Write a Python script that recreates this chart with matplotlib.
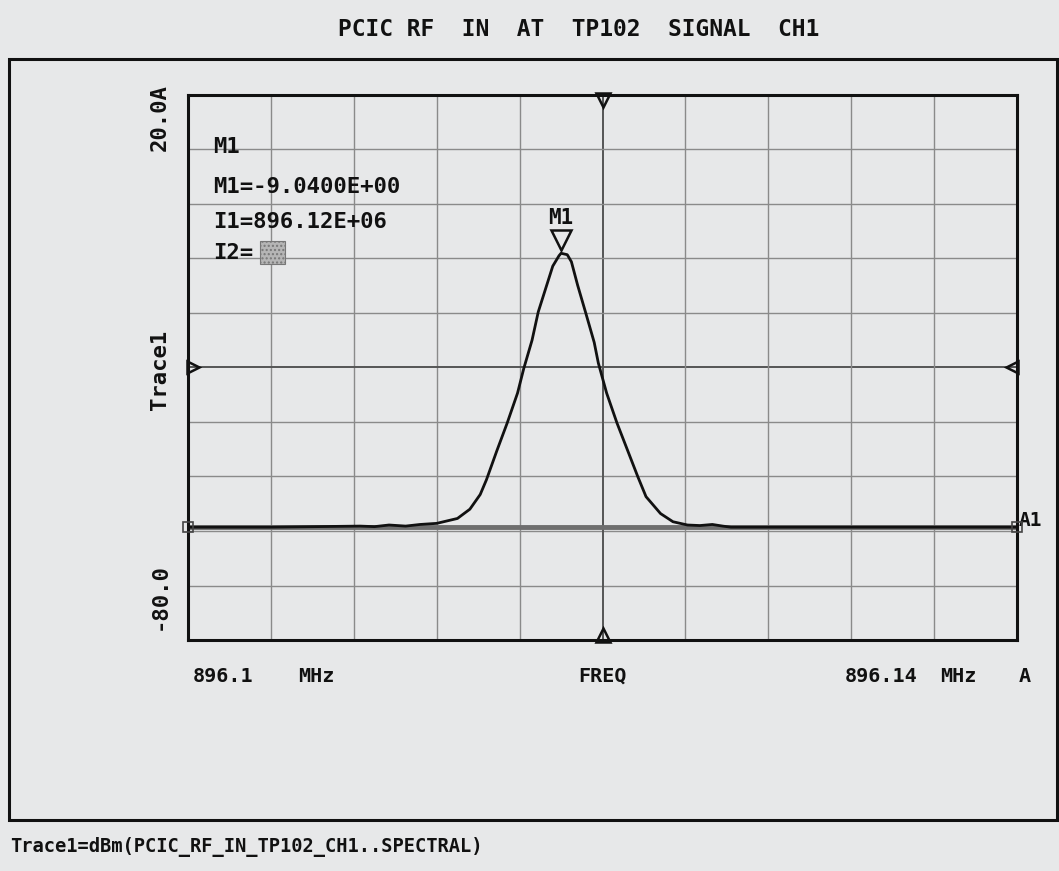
import matplotlib
matplotlib.use("Agg")
from matplotlib import pyplot as plt
from matplotlib.patches import Rectangle

# trace (MHz, dBm)
freq_mhz = [896.1000, 896.1040, 896.1083, 896.1090, 896.1097, 896.1105, 896.1112,
            896.1120, 896.1130, 896.1136, 896.1141, 896.1144, 896.1149, 896.1154,
            896.1159, 896.1162, 896.1166, 896.1169, 896.1173, 896.1176, 896.1179,
            896.1180, 896.1183, 896.1185, 896.1188, 896.1192, 896.1196, 896.1198,
            896.1202, 896.1207, 896.1212, 896.1217, 896.1221, 896.1228, 896.1234,
            896.1241, 896.1247, 896.1253, 896.1258, 896.1262, 896.1300, 896.1400]
level_dbm = [-59.3, -59.3, -59.1, -59.2, -58.9, -59.1, -58.8,
             -58.6, -57.7, -56.0, -53.3, -50.6, -45.3, -40.2,
             -34.7, -30.2, -25.0, -19.8, -15.0, -11.4, -9.5,
             -9.04, -9.3, -10.6, -14.9, -20.1, -25.4, -29.2,
             -34.7, -40.2, -45.1, -50.0, -53.7, -56.8, -58.3,
             -58.9, -59.0, -58.8, -59.1, -59.3, -59.3, -59.3]

f_start, f_stop = 896.10, 896.14
y_top, y_bottom = 20.0, -80.0
ref_level = -59.3
marker_freq = 896.1180
marker_level = -9.04
readout = ["M1", "M1=-9.0400E+00", "I1=896.12E+06", "I2="]

bg = "#e7e8e9"
ink = "#111111"
font = dict(family="DejaVu Sans Mono", weight="bold", color=ink)

fig = plt.figure(figsize=(10.59, 8.71), dpi=100, facecolor=bg)

# outer panel frame
fig.patches.append(Rectangle((9 / 1059, 1 - 820 / 871), 1 - 11 / 1059, (820 - 59) / 871,
                             transform=fig.transFigure, fill=False, lw=2.2, ec=ink))

ax = fig.add_axes([188 / 1059, 1 - 640 / 871, 829 / 1059, 545 / 871])
ax.set_facecolor(bg)
ax.set_xlim(f_start, f_stop)
ax.set_ylim(y_bottom, y_top)

# graticule 10 x 10, centre lines darker
step_x = (f_stop - f_start) / 10
step_y = (y_top - y_bottom) / 10
for i in range(1, 10):
    xv = f_start + i * step_x
    yv = y_bottom + i * step_y
    c = "#555555" if i == 5 else "#8a8a8a"
    w = 1.4 if i == 5 else 1.0
    ax.axvline(xv, color=c, lw=w, zorder=1)
    ax.axhline(yv, color=c, lw=w, zorder=1)

ax.set_xticks([])
ax.set_yticks([])
for s in ax.spines.values():
    s.set_linewidth(2.2)
    s.set_color(ink)

# reference line A1 and trace
ax.axhline(ref_level, color="#6e6e6e", lw=3.5, zorder=2)
ax.plot(freq_mhz, level_dbm, color=ink, lw=2.0, zorder=3)

ax.plot([f_start, f_stop], [ref_level, ref_level], ls="none", marker="s", ms=7,
        mfc="none", mec="#444444", mew=1.2, clip_on=False, zorder=4)
ax.text(f_stop + 0.0001, ref_level + 1.3, "A1", ha="left", va="center", fontsize=14, **font)

# edge markers, sitting just inside the frame
mid_f = (f_start + f_stop) / 2
mid_y = (y_top + y_bottom) / 2
dx = step_x * 0.06
ax.plot([mid_f], [y_top - 0.9], marker="v", ms=10, mfc="none", mec=ink, mew=1.8, clip_on=False, zorder=4)
ax.plot([mid_f], [y_bottom + 0.9], marker="^", ms=10, mfc="none", mec=ink, mew=1.8, clip_on=False, zorder=4)
ax.plot([f_start + dx], [mid_y], marker=">", ms=9, mfc="none", mec=ink, mew=1.8, clip_on=False, zorder=4)
ax.plot([f_stop - dx], [mid_y], marker="<", ms=9, mfc="none", mec=ink, mew=1.8, clip_on=False, zorder=4)

# marker M1
ax.plot([marker_freq], [marker_level + 2.4], marker="v", ms=14, mfc=bg, mec=ink, mew=1.8, zorder=5)
ax.text(marker_freq, marker_level + 6.4, "M1", ha="center", va="center", fontsize=15, **font)

# readout block
ry = [10.5, 3.1, -3.3, -9.0]
for txt, yy in zip(readout, ry):
    ax.text(896.1012, yy, txt, ha="left", va="center", fontsize=16, **font)
ax.add_patch(Rectangle((896.10348, -11.0), 0.00120, 4.2, facecolor="#b5b5b5",
                       edgecolor="#777777", hatch="....", lw=0.8, zorder=4))

# axis annotations
fig.text(579 / 1059, 1 - 29 / 871, "PCIC RF  IN  AT  TP102  SIGNAL  CH1",
         ha="center", va="center", fontsize=16.5, **font)
fig.text(160 / 1059, 1 - 118 / 871, "20.0A", rotation=90, ha="center", va="center",
         fontsize=16, **font)
fig.text(160 / 1059, 1 - 597 / 871, "-80.0", rotation=90, ha="center", va="center",
         fontsize=16, **font)
fig.text(160 / 1059, 1 - 370 / 871, "Trace1", rotation=90, ha="center", va="center",
         fontsize=16, **font)
fig.text(193 / 1059, 1 - 676 / 871, "896.1", ha="left", va="center", fontsize=14.5, **font)
fig.text(298 / 1059, 1 - 676 / 871, "MHz", ha="left", va="center", fontsize=14.5, **font)
fig.text(603 / 1059, 1 - 676 / 871, "FREQ", ha="center", va="center", fontsize=14.5, **font)
fig.text(845 / 1059, 1 - 676 / 871, "896.14", ha="left", va="center", fontsize=14.5, **font)
fig.text(940 / 1059, 1 - 676 / 871, "MHz", ha="left", va="center", fontsize=14.5, **font)
fig.text(1019 / 1059, 1 - 676 / 871, "A", ha="left", va="center", fontsize=14.5, **font)
fig.text(10 / 1059, 1 - 847 / 871, "Trace1=dBm(PCIC_RF_IN_TP102_CH1..SPECTRAL)",
         ha="left", va="center", fontsize=13.5, **font)

fig.savefig("out.png", dpi=100, facecolor=bg)
